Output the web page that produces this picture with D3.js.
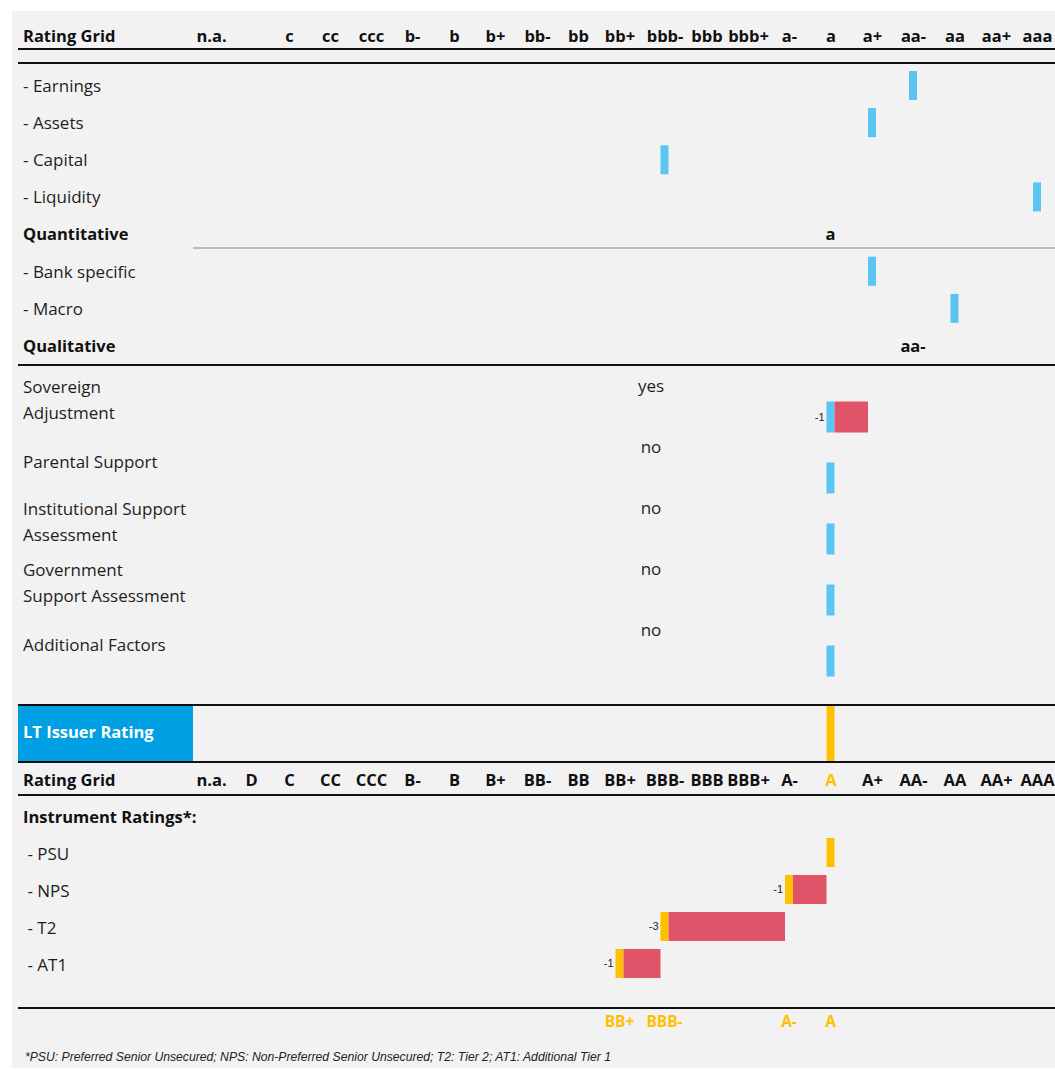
<!DOCTYPE html>
<html>
<head>
<meta charset="utf-8">
<script src="https://cdn.jsdelivr.net/npm/d3@7"></script>
<style>
  html, body { margin: 0; padding: 0; background: #ffffff; }
  svg { display: block; }
  text { font-family: "Open Sans", "Noto Sans", sans-serif; fill: #1e1e1e; }
</style>
</head>
<body>
<svg id="chart" width="1055" height="1071"></svg>
<script>
// Rating scales (upper = intrinsic assessment grid, lower = final rating grid)
const gridUpper = ["n.a.", "", "c", "cc", "ccc", "b-", "b", "b+", "bb-", "bb", "bb+", "bbb-", "bbb", "bbb+", "a-", "a", "a+", "aa-", "aa", "aa+", "aaa"];
const gridLower = ["n.a.", "D", "C", "CC", "CCC", "B-", "B", "B+", "BB-", "BB", "BB+", "BBB-", "BBB", "BBB+", "A-", "A", "A+", "AA-", "AA", "AA+", "AAA"];

// Financial profile factors
const factorLabels = ["- Earnings", "- Assets", "- Capital", "- Liquidity", "Quantitative", "- Bank specific", "- Macro", "Qualitative"];
const factorScores = ["aa-", "a+", "bbb-", "aaa", "a", "a+", "aa", "aa-"];
const factorIsTotal = [false, false, false, false, true, false, false, true];

// Adjustments and support
const adjLabels = [["Sovereign", "Adjustment"], ["Parental Support"], ["Institutional Support", "Assessment"], ["Government", "Support Assessment"], ["Additional Factors"]];
const adjFlags = ["yes", "no", "no", "no", "no"];
const adjRatings = ["a", "a", "a", "a", "a"];
const adjNotches = [-1, 0, 0, 0, 0];

// Long-term issuer rating
const issuerRating = "A";

// Instrument ratings
const instLabels = [" - PSU", " - NPS", " - T2", " - AT1"];
const instRatings = ["A", "A-", "BBB-", "BB+"];
const instNotches = [0, -1, -3, -1];

const footnote = "*PSU: Preferred Senior Unsecured; NPS: Non-Preferred Senior Unsecured; T2: Tier 2; AT1: Additional Tier 1";

const colors = { blue: "#5bc5f2", red: "#e05469", yellow: "#ffc000", box: "#009fe3", bg: "#f2f2f2" };

// Grid column centres (layout): the table's columns are not all equal width
const colCenters = [211, 251, 289, 330, 371, 412, 454, 495, 537, 578, 619.5, 664.5, 706.5, 748, 789, 830.5, 872, 913, 954.5, 996, 1037];

const svg = d3.select("#chart");
const W = 1055;
const left = 18, labelX = 23;
const barW = 8;
const boldSize = "16.5px", bodySize = "17px";

svg.append("rect").attr("x", 12).attr("y", 11).attr("width", W - 12).attr("height", 1057).attr("fill", colors.bg);

const xUp = d3.scaleOrdinal().domain(gridUpper).range(colCenters);
const xLo = d3.scaleOrdinal().domain(gridLower).range(colCenters);

function hline(y, x0, x1, color, w) {
  svg.append("line").attr("x1", x0).attr("x2", x1).attr("y1", y).attr("y2", y)
    .attr("stroke", color).attr("stroke-width", w);
}

function gridAxis(scale, y, highlight) {
  const g = svg.append("g").attr("transform", `translate(0,${y})`)
    .call(d3.axisBottom(scale).tickSize(0).tickPadding(0));
  g.select(".domain").remove();
  g.selectAll("text")
    .attr("y", 0).attr("dy", "0.35em")
    .style("font-family", "'Open Sans', sans-serif")
    .style("font-size", boldSize).style("font-weight", 700)
    .style("fill", d => d === highlight ? colors.yellow : "#111");
  svg.append("text").attr("x", labelX).attr("y", y).attr("dy", "0.35em")
    .style("font-size", boldSize).style("font-weight", 700).style("fill", "#111").text("Rating Grid");
}

// ---- Upper rating grid header
gridAxis(xUp, 36, null);
hline(49, left, W, "#111", 2);
hline(63, left, W, "#111", 2);

// ---- Factor rows
const yFac = d3.scalePoint().domain(d3.range(factorLabels.length)).range([86, 346]);
const barH = 29;

factorLabels.forEach((lab, i) => {
  svg.append("text").attr("x", labelX).attr("y", yFac(i)).attr("dy", "0.35em")
    .style("font-size", factorIsTotal[i] ? boldSize : bodySize)
    .style("font-weight", factorIsTotal[i] ? 700 : 400)
    .style("fill", factorIsTotal[i] ? "#111" : "#1e1e1e")
    .text(lab);
  if (factorIsTotal[i]) {
    svg.append("text").attr("x", xUp(factorScores[i])).attr("y", yFac(i)).attr("dy", "0.35em")
      .attr("text-anchor", "middle").style("font-size", boldSize).style("font-weight", 700).style("fill", "#111")
      .text(factorScores[i]);
  } else {
    svg.append("rect").attr("x", xUp(factorScores[i]) - barW / 2).attr("y", yFac(i) - barH / 2 - 0.5)
      .attr("width", barW).attr("height", barH).attr("fill", colors.blue);
  }
});
hline(248, 193, W, "#aaaaaa", 1.5);
hline(365, left, W, "#111", 2);

// ---- Adjustments and support
const yAdj = d3.scalePoint().domain(d3.range(adjLabels.length)).range([417, 661]);
const adjH = 31;
adjLabels.forEach((lines, i) => {
  const yc = yAdj(i);
  const y0 = lines.length > 1 ? yc - 29.5 : yc - 15.5;
  lines.forEach((ln, k) => {
    svg.append("text").attr("x", labelX).attr("y", y0 + k * 26).attr("dy", "0.35em")
      .style("font-size", bodySize).text(ln);
  });
  svg.append("text").attr("x", 651).attr("y", yc - 31).attr("dy", "0.35em").attr("text-anchor", "middle")
    .style("font-size", bodySize).text(adjFlags[i]);
  const r = adjRatings[i];
  svg.append("rect").attr("x", xUp(r) - barW / 2).attr("y", yc - adjH / 2)
    .attr("width", barW).attr("height", adjH).attr("fill", colors.blue);
  if (adjNotches[i] !== 0) {
    const target = gridUpper[gridUpper.indexOf(r) - adjNotches[i]];
    svg.append("rect").attr("x", xUp(r) + barW / 2).attr("y", yc - adjH / 2)
      .attr("width", xUp(target) - barW / 2 - (xUp(r) + barW / 2)).attr("height", adjH).attr("fill", colors.red);
    svg.append("text").attr("x", xUp(r) - barW / 2 - 2).attr("y", yc).attr("dy", "0.35em").attr("text-anchor", "end")
      .style("font-family", "'Liberation Sans', Arial, sans-serif").style("font-size", "11px").style("fill", "#222")
      .text(adjNotches[i]);
  }
});

// ---- LT issuer rating
hline(705, left, W, "#111", 2);
svg.append("rect").attr("x", left).attr("y", 706).attr("width", 193 - left).attr("height", 55).attr("fill", colors.box);
svg.append("text").attr("x", labelX).attr("y", 732).attr("dy", "0.35em")
  .style("font-size", boldSize).style("font-weight", 700).style("fill", "#ffffff").text("LT Issuer Rating");
svg.append("rect").attr("x", xLo(issuerRating) - barW / 2).attr("y", 706).attr("width", barW).attr("height", 55)
  .attr("fill", colors.yellow);
hline(762, left, W, "#111", 2);

// ---- Lower rating grid header
gridAxis(xLo, 780, issuerRating);
hline(795, left, W, "#111", 2);

// ---- Instrument ratings
const yInst = d3.scalePoint().domain(d3.range(instLabels.length + 1)).range([817, 965]);
svg.append("text").attr("x", labelX).attr("y", yInst(0)).attr("dy", "0.35em")
  .style("font-size", boldSize).style("font-weight", 700).style("fill", "#111").text("Instrument Ratings*:");
instLabels.forEach((lab, i) => {
  const yc = yInst(i + 1);
  svg.append("text").attr("x", labelX).attr("y", yc).attr("dy", "0.35em")
    .style("font-size", bodySize).style("white-space", "pre").attr("xml:space", "preserve").text(lab);
  const r = instRatings[i];
  const by = yc - barH / 2 - 1.5;
  svg.append("rect").attr("x", xLo(r) - barW / 2).attr("y", by)
    .attr("width", barW).attr("height", barH).attr("fill", colors.yellow);
  if (instNotches[i] !== 0) {
    const target = gridLower[gridLower.indexOf(r) - instNotches[i]];
    svg.append("rect").attr("x", xLo(r) + barW / 2).attr("y", by)
      .attr("width", xLo(target) - barW / 2 - (xLo(r) + barW / 2)).attr("height", barH).attr("fill", colors.red);
    svg.append("text").attr("x", xLo(r) - barW / 2 - 2).attr("y", by + barH / 2).attr("dy", "0.35em").attr("text-anchor", "end")
      .style("font-family", "'Liberation Sans', Arial, sans-serif").style("font-size", "11px").style("fill", "#222")
      .text(instNotches[i]);
  }
});
hline(1008, left, W, "#111", 2);

// Summary of the instrument ratings
const summary = gridLower.filter(r => instRatings.includes(r));
svg.selectAll("text.summary").data(summary).join("text").attr("class", "summary")
  .attr("x", d => xLo(d)).attr("y", 1022).attr("dy", "0.35em").attr("text-anchor", "middle")
  .style("font-size", "15.5px").style("font-weight", 700).style("fill", colors.yellow).text(d => d);

svg.append("text").attr("x", 25).attr("y", 1057).attr("dy", "0.35em")
  .style("font-family", "'Liberation Sans', Arial, sans-serif")
  .style("font-style", "italic").style("font-size", "12.2px").style("fill", "#222").text(footnote);
</script>
</body>
</html>
